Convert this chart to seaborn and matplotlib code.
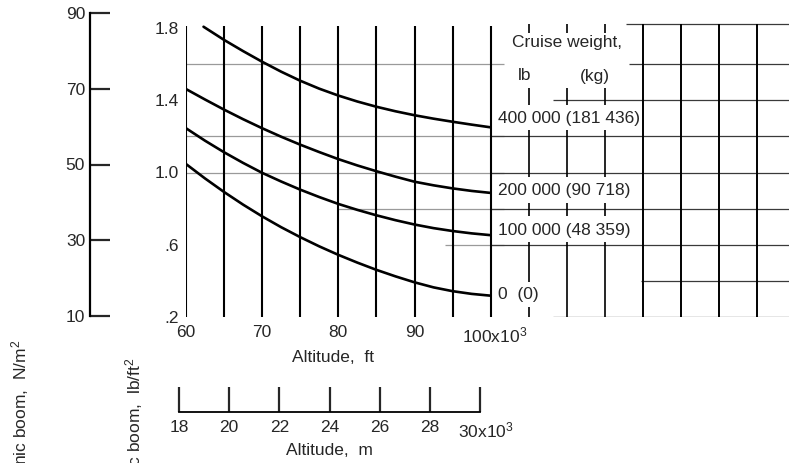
import numpy as np
import pandas as pd
import matplotlib
matplotlib.use("Agg")
import matplotlib.pyplot as plt
import seaborn as sns
from matplotlib.transforms import ScaledTranslation

# ---------------- data ----------------
alt_kft = [60, 62.5, 65, 67.5, 70, 72.5, 75, 77.5, 80, 82.5, 85, 87.5, 90, 92.5, 95, 97.5, 100]
boom_w0 = [1.047, 0.967, 0.892, 0.822, 0.757, 0.697, 0.642, 0.591, 0.544,
           0.501, 0.461, 0.425, 0.392, 0.364, 0.343, 0.328, 0.318]
boom_w100k = [1.245, 1.176, 1.112, 1.053, 0.998, 0.950, 0.905, 0.864, 0.826,
              0.793, 0.763, 0.736, 0.712, 0.692, 0.676, 0.663, 0.653]
boom_w200k = [1.462, 1.404, 1.348, 1.295, 1.245, 1.198, 1.154, 1.113, 1.074,
              1.039, 1.007, 0.977, 0.949, 0.929, 0.912, 0.898, 0.887]
alt_kft_w400k = [62.3, 65, 67.5, 70, 72.5, 75, 77.5, 80, 82.5, 85, 87.5, 90, 92.5, 95, 97.5, 100]
boom_w400k = [1.807, 1.734, 1.672, 1.613, 1.558, 1.508, 1.464, 1.426,
              1.393, 1.364, 1.339, 1.317, 1.298, 1.281, 1.265, 1.250]

weight_labels = ["0  (0)", "100 000 (48 359)", "200 000 (90 718)", "400 000 (181 436)"]

ft_ticks = [60, 70, 80, 90, 100]
ft_ticklabels = ["60", "70", "80", "90", "100x10$^3$"]
psf_ticks = [0.2, 0.6, 1.0, 1.4, 1.8]
psf_ticklabels = [".2", ".6", "1.0", "1.4", "1.8"]
nm2_ticks = [10, 30, 50, 70, 90]
nm2_ticklabels = ["10", "30", "50", "70", "90"]
m_ticks = [18, 20, 22, 24, 26, 28, 30]
m_ticklabels = ["18", "20", "22", "24", "26", "28", "30x10$^3$"]

# long-form table for seaborn
frames = []
for lab, xs, ys in [(weight_labels[0], alt_kft, boom_w0),
                    (weight_labels[1], alt_kft, boom_w100k),
                    (weight_labels[2], alt_kft, boom_w200k),
                    (weight_labels[3], alt_kft_w400k, boom_w400k)]:
    frames.append(pd.DataFrame({"alt": xs, "boom": ys, "weight": lab}))
df = pd.concat(frames, ignore_index=True)

# ---------------- style ----------------
sns.set_style("white")
plt.rcParams["font.family"] = ["Liberation Sans", "DejaVu Sans"]
plt.rcParams["mathtext.default"] = "regular"
FS = 12.5

W, H = 789, 463
fig = plt.figure(figsize=(W / 100, H / 100), dpi=100)

def fx(px):
    return px / W

def fy(py):
    return 1 - py / H

# main axes: x=60 at px 186, 7.617 px/unit; y=0.2 at px 317, 1.8 at px 28
XPX = 7.617
YPX = (317 - 28) / 1.6
x_right = 60 + (W - 186) / XPX
y_top = 1.8 + (28 - 18) / YPX
ax = fig.add_axes([fx(186), fy(317), fx(W - 186), (317 - 18) / H])
ax.set_xlim(60, x_right)
ax.set_ylim(0.2, y_top)
for s in ax.spines.values():
    s.set_visible(False)

def py2v(py):
    return 1.8 - (py - 28) / YPX

# grid: horizontal lines (gray in plot area, dark in right block)
gray = "#9a9a9a"
dark = "#3a3a3a"
ax.hlines([1.6, 1.2, 1.0], 60, 101.7, color=gray, lw=0.9)
ax.hlines([0.8], 79.8, 101.7, color=gray, lw=0.9)
ax.hlines([0.6], 94.0, 101.7, color=gray, lw=0.9)
ax.hlines([1.2, 1.0, 0.8, 0.6], 100, x_right, color=dark, lw=0.9)
ax.hlines([py2v(24)], 117.8, x_right, color=dark, lw=0.9)
ax.hlines([1.6], 118.2, x_right, color=dark, lw=0.9)
ax.hlines([1.4, 0.2], 108.2, x_right, color=dark, lw=0.9)
ax.hlines([0.4], 119.7, x_right, color=dark, lw=0.9)

# vertical lines of the plot area
ax.vlines(np.arange(60, 101, 5), 0.2, 1.81, color="black", lw=1.5)
ax.vlines(np.arange(120, 136, 5), 0.2, py2v(24), color="black", lw=1.4)

# legend column lines (broken by the text rows)
segs_105 = [(24, 33), (88, 105), (130, 177), (203, 216), (242, 282), (307, 317)]
segs_other = [(24, 33), (88, 105), (130, 177), (203, 216), (242, 317)]
for xv, segs in ((105, segs_105), (110, segs_other), (115, segs_other)):
    for a, b in segs:
        ax.vlines(xv, py2v(b), py2v(a), color="black", lw=1.2)

# curves
sns.lineplot(data=df, x="alt", y="boom", units="weight", estimator=None,
             color="black", lw=1.9, ax=ax, legend=False, sort=False)
ax.set_xlabel("")
ax.set_ylabel("")

ax.set_xticks(ft_ticks)
ax.set_xticklabels(ft_ticklabels, fontsize=FS)
ax.set_yticks(psf_ticks)
ax.set_yticklabels(psf_ticklabels, fontsize=FS)
ax.tick_params(axis="x", length=0, pad=6)
ax.tick_params(axis="y", length=0, pad=5)
lastx = ax.get_xticklabels()[-1]
lastx.set_ha("left")
lastx.set_transform(lastx.get_transform() + ScaledTranslation(-28.5 / 100, 0, fig.dpi_scale_trans))

fig.text(fx(333), fy(357), "Altitude,  ft", ha="center", va="center", fontsize=FS)

# legend texts
ax.text(110.0, py2v(43), "Cruise weight,", ha="center", va="center", fontsize=FS)
ax.text(104.5, py2v(76), "lb", ha="center", va="center", fontsize=FS)
ax.text(113.7, py2v(76), "(kg)", ha="center", va="center", fontsize=FS)
lab_py = [295, 230, 190, 118]
for lab, p in zip(weight_labels, lab_py):
    ax.text(100.9, py2v(p), lab, ha="left", va="center", fontsize=FS)

# ---------------- N/m^2 scale ----------------
ax2 = fig.add_axes([fx(90), fy(316), fx(30), (316 - 13) / H])
ax2.set_xlim(0, 1)
ax2.set_ylim(10, 90)
ax2.set_xticks([])
for k in ("top", "right", "bottom"):
    ax2.spines[k].set_visible(False)
ax2.spines["left"].set_linewidth(1.6)
ax2.spines["left"].set_color("black")
ax2.set_yticks(nm2_ticks)
ax2.set_yticklabels(nm2_ticklabels, fontsize=FS)
ax2.tick_params(axis="y", direction="in", length=14.5, width=1.6, pad=3.5, left=True)
ax2.patch.set_alpha(0)

# ---------------- metre scale ----------------
ax3 = fig.add_axes([fx(179), fy(412), fx(480 - 179), 30 / H])
ax3.set_xlim(18, 30)
ax3.set_yticks([])
for k in ("top", "right", "left"):
    ax3.spines[k].set_visible(False)
ax3.spines["bottom"].set_linewidth(1.3)
ax3.spines["bottom"].set_color("black")
ax3.set_xticks(m_ticks)
ax3.set_xticklabels(m_ticklabels, fontsize=FS)
ax3.tick_params(axis="x", direction="in", length=18, width=1.6, pad=6, bottom=True)
lastm = ax3.get_xticklabels()[-1]
lastm.set_ha("left")
lastm.set_transform(lastm.get_transform() + ScaledTranslation(-22 / 100, 0, fig.dpi_scale_trans))
ax3.set_xlabel("Altitude,  m", fontsize=FS, labelpad=2)
ax3.patch.set_alpha(0)

# axis titles (partly cut off at the bottom edge, as in the reference)
fig.text(fx(20), fy(340), "Sonic boom,  N/m$^2$", rotation=90, ha="center", va="top", fontsize=FS)
fig.text(fx(134), fy(357), "Sonic boom,  lb/ft$^2$", rotation=90, ha="center", va="top", fontsize=FS)

fig.savefig("out.png", dpi=100)
